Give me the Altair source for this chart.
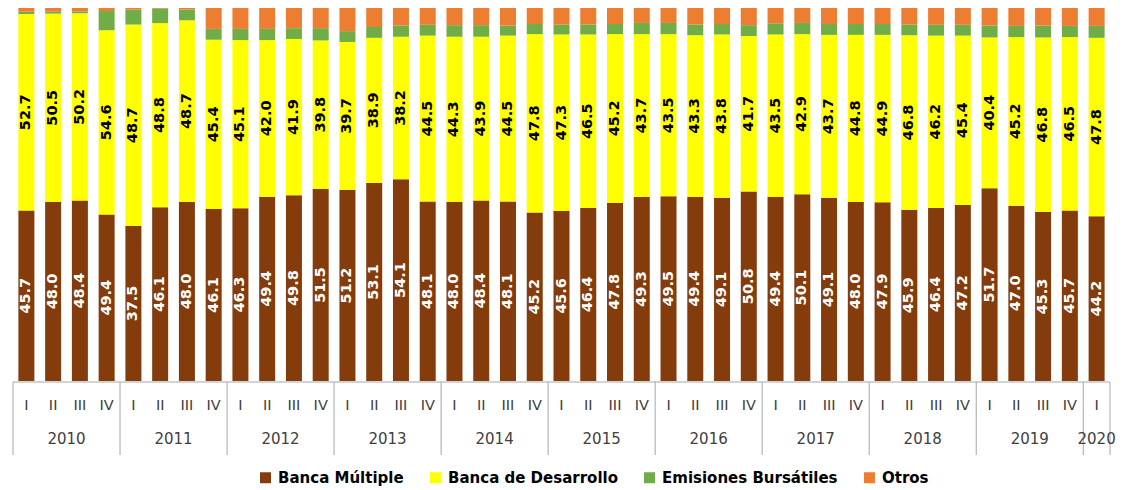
import altair as alt
import pandas as pd

# ---- data ----
quarter_labels = ["I", "II", "III", "IV"] * 10 + ["I"]
year_labels = (["2010"] * 4 + ["2011"] * 4 + ["2012"] * 4 + ["2013"] * 4 + ["2014"] * 4 +
               ["2015"] * 4 + ["2016"] * 4 + ["2017"] * 4 + ["2018"] * 4 + ["2019"] * 4 + ["2020"])

banca_multiple = [45.7, 48.0, 48.4, 49.4, 37.5, 46.1, 48.0, 46.1, 46.3, 49.4, 49.8, 51.5,
                  51.2, 53.1, 54.1, 48.1, 48.0, 48.4, 48.1, 45.2, 45.6, 46.4, 47.8, 49.3,
                  49.5, 49.4, 49.1, 50.8, 49.4, 50.1, 49.1, 48.0, 47.9, 45.9, 46.4, 47.2,
                  51.7, 47.0, 45.3, 45.7, 44.2]
banca_desarrollo = [52.7, 50.5, 50.2, 54.6, 48.7, 48.8, 48.7, 45.4, 45.1, 42.0, 41.9, 39.8,
                    39.7, 38.9, 38.2, 44.5, 44.3, 43.9, 44.5, 47.8, 47.3, 46.5, 45.2, 43.7,
                    43.5, 43.3, 43.8, 41.7, 43.5, 42.9, 43.7, 44.8, 44.9, 46.8, 46.2, 45.4,
                    40.4, 45.2, 46.8, 46.5, 47.8]
emisiones = [0.6, 0.5, 0.5, 5.7, 3.6, 3.9, 2.9, 2.9, 3.0, 3.0, 2.9, 3.3,
             2.9, 2.9, 3.0, 2.9, 3.1, 3.1, 2.7, 2.7, 2.7, 2.7, 2.7, 3.0,
             3.0, 2.9, 2.8, 2.9, 3.0, 3.0, 2.9, 2.9, 2.9, 2.9, 2.9, 2.9,
             3.2, 3.0, 3.2, 3.0, 3.2]
otros = [1.0, 1.0, 0.9, 0.9, 0.4, 0.1, 0.4, 5.6, 5.6, 5.6, 5.4, 5.4,
         6.2, 5.1, 4.7, 4.5, 4.6, 4.6, 4.7, 4.3, 4.4, 4.4, 4.3, 4.0,
         4.0, 4.4, 4.3, 4.6, 4.1, 4.0, 4.3, 4.3, 4.3, 4.4, 4.5, 4.5,
         4.7, 4.8, 4.7, 4.8, 4.8]

series_names = ["Banca Múltiple", "Banca de Desarrollo", "Emisiones Bursátiles", "Otros"]
series_colors = ["#843C0C", "#FFFF00", "#70AD47", "#ED7D31"]

# ---- tables built from the lists ----
rows = []
for i in range(len(quarter_labels)):
    for k, vals in enumerate([banca_multiple, banca_desarrollo, emisiones, otros]):
        rows.append({"idx": i, "serie": series_names[k], "ord": k, "valor": vals[i]})
df = pd.DataFrame(rows)

qdf = pd.DataFrame({"idx": list(range(len(quarter_labels))), "q": quarter_labels, "year": year_labels})
ydf = qdf.groupby("year", as_index=False)["idx"].mean()
bounds = [g["idx"].min() - 0.5 for _, g in qdf.groupby("year")] + [len(quarter_labels) - 0.5]
bdf = pd.DataFrame({"b": bounds})
hdf = pd.DataFrame({"x0": [-0.5], "x1": [len(quarter_labels) - 0.5]})

W, H = 1107, 373
FONT = "DejaVu Sans"
xscale = alt.Scale(domain=[-0.5, len(quarter_labels) - 0.5], nice=False, zero=False)
yscale = alt.Scale(domain=[0, 1], nice=False)

base = alt.Chart(df).transform_stack(
    stack="valor", groupby=["idx"], as_=["y0", "y1"], offset="normalize",
    sort=[alt.SortField("ord", order="ascending")]
).transform_calculate(mid="(datum.y0 + datum.y1) / 2")

bars = base.mark_bar(width=16).encode(
    x=alt.X("idx:Q", scale=xscale, axis=None),
    y=alt.Y("y0:Q", scale=yscale, axis=None),
    y2="y1:Q",
    color=alt.Color("serie:N", scale=alt.Scale(domain=series_names, range=series_colors),
                    legend=alt.Legend(title=None, orient="none", direction="horizontal",
                                      legendX=250, legendY=462, symbolType="square",
                                      symbolSize=121, symbolStrokeWidth=0, labelLimit=400,
                                      labelFont=FONT, labelFontSize=15, labelFontWeight="bold",
                                      labelColor="#000000", columnPadding=24, labelOffset=5)),
)

lab_bm = base.transform_filter(alt.datum.ord == 0).mark_text(
    angle=270, font=FONT, fontSize=14.5, fontWeight="bold", color="#FFFFFF", baseline="middle", align="center"
).encode(x=alt.X("idx:Q", scale=xscale), y=alt.Y("mid:Q", scale=yscale), text=alt.Text("valor:Q", format=".1f"))

lab_bd = base.transform_filter(alt.datum.ord == 1).mark_text(
    angle=270, font=FONT, fontSize=14.5, fontWeight="bold", color="#000000", baseline="middle", align="center"
).encode(x=alt.X("idx:Q", scale=xscale), y=alt.Y("mid:Q", scale=yscale), text=alt.Text("valor:Q", format=".1f"))

hline = alt.Chart(hdf).mark_rule(color="#A6A6A6", strokeWidth=1).encode(
    x=alt.X("x0:Q", scale=xscale), x2="x1:Q", y=alt.value(H + 1)
)
vlines = alt.Chart(bdf).mark_rule(color="#A6A6A6", strokeWidth=1).encode(
    x=alt.X("b:Q", scale=xscale), y=alt.value(H + 1), y2=alt.value(447)
)
qtext = alt.Chart(qdf).mark_text(font=FONT, fontSize=14.5, color="#404040", baseline="middle").encode(
    x=alt.X("idx:Q", scale=xscale), y=alt.value(398), text="q:N"
)
ytext = alt.Chart(ydf).mark_text(font=FONT, fontSize=15, color="#404040", baseline="middle").encode(
    x=alt.X("idx:Q", scale=xscale), y=alt.value(431), text="year:N"
)

chart = alt.layer(bars, lab_bm, lab_bd, hline, vlines, qtext, ytext).properties(
    width=W, height=H, padding={"left": 0, "top": 0, "right": 0, "bottom": 0}
).configure_view(stroke=None)

chart.save("out.html", embed_options={"renderer": "svg", "actions": False})
